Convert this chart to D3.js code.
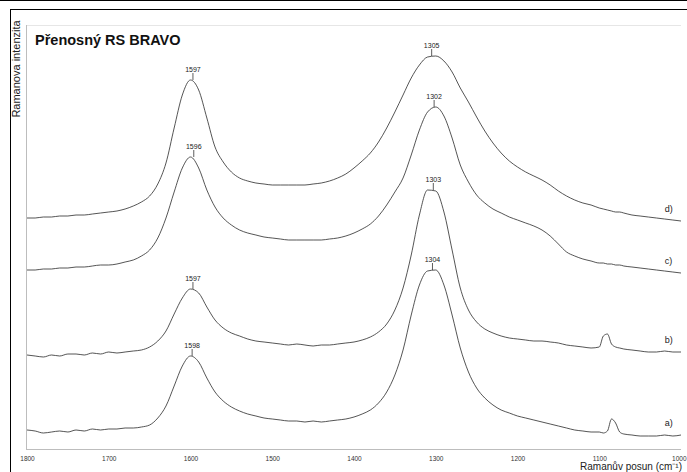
<!DOCTYPE html>
<html><head><meta charset="utf-8">
<script src="https://cdn.jsdelivr.net/npm/d3@7"></script>
<style>body{margin:0;background:#fff}svg{display:block;font-family:"Liberation Sans",Arial,sans-serif}</style>
</head><body>
<svg id="chart" width="687" height="472"></svg>
<script>
// Raman shift grid (cm-1)
const wavenumbers = [
  1800,1790,1780,1770,1760,1750,1740,1730,1720,1710,
  1700,1690,1680,1670,1660,1650,1640,1630,1620,1610,
  1600,1590,1580,1570,1560,1550,1540,1530,1520,1510,
  1500,1490,1480,1470,1460,1450,1440,1430,1420,1410,
  1400,1390,1380,1370,1360,1350,1340,1330,1320,1310,
  1300,1290,1280,1270,1260,1250,1240,1230,1220,1210,
  1200,1190,1180,1170,1160,1150,1140,1130,1120,1110,
  1100,1095,1090,1085,1080,1075,1070,
  1060,1050,1040,1030,1020,1010,1000
];
// Intensities (arbitrary units, stacked offsets included)
const seriesA = [
  19,18,16,17,18,17,19,18,20,19,
  20,20,21,21,22,24,31,43,63,83,
  93,87,71,57,48,42,38,35,33,31,
  30,29,28,28,27,28,27,28,29,30,
  32,35,39,46,57,74,99,134,164,178,
  179,164,134,101,77,61,51,44,39,36,
  33,31,29,27,25,23,21,19,18,17,
  17,16,18,30,26,17,15,
  14,13,13,13,14,13,14
];
const seriesB = [
  94,93,92,94,93,95,95,94,96,95,
  97,96,97,98,99,102,108,118,135,151,
  160,156,142,129,121,116,113,110,108,107,
  106,105,104,105,104,103,104,104,105,106,
  107,109,112,117,125,139,161,194,234,259,
  258,237,199,161,139,127,120,116,113,111,
  110,109,108,108,107,106,104,103,102,101,
  102,113,115,105,102,101,100,
  99,98,97,97,98,97,97
];
const seriesC = [
  179,179,180,180,181,181,182,182,183,184,
  184,185,187,189,193,199,211,231,257,281,
  292,281,259,242,231,224,219,216,214,212,
  211,210,209,209,209,209,209,210,211,213,
  216,220,225,233,244,257,271,294,319,337,
  342,333,311,284,267,254,246,240,236,232,
  229,226,223,219,213,205,197,193,190,188,
  186,186,185,185,184,184,183,
  182,181,180,179,178,177,176
];
const seriesD = [
  231,231,232,232,233,233,234,234,235,236,
  237,238,240,243,247,253,265,286,321,354,
  369,359,331,302,287,277,271,268,266,265,
  264,264,264,264,264,265,266,268,271,275,
  281,288,296,307,321,337,354,371,384,392,
  393,388,377,361,347,332,318,306,296,288,
  282,277,273,269,264,258,253,249,246,244,
  241,240,239,238,237,237,236,
  234,233,232,231,230,229,228
];
const seriesNames = ["a)","b)","c)","d)"];
const tickValues = [1800,1700,1600,1500,1400,1300,1200,1100,1000];
const peakSeries = [3,3,2,2,1,1,0,0];
const peakLabels = ["1597","1305","1596","1302","1597","1303","1598","1304"];
const titleText = "Přenosný RS BRAVO";
const xTitle = "Ramanův posun (cm⁻¹)";
const yTitle = "Ramanova intenzita";

const allSeries = [seriesA, seriesB, seriesC, seriesD];
const svg = d3.select("#chart");
const x = d3.scaleLinear().domain([1800,1000]).range([27,681]);
const y = d3.scaleLinear().domain([0,424]).range([449,25]);

// outer frame
svg.append("line").attr("x1",0).attr("x2",687).attr("y1",0.5).attr("y2",0.5).attr("stroke","#000").attr("stroke-width",1.2);
svg.append("line").attr("x1",10).attr("x2",687).attr("y1",9.5).attr("y2",9.5).attr("stroke","#000").attr("stroke-width",1);
svg.append("line").attr("x1",10.5).attr("x2",10.5).attr("y1",9).attr("y2",472).attr("stroke","#000").attr("stroke-width",1);

// plot box
svg.append("line").attr("x1",26).attr("x2",681).attr("y1",25.5).attr("y2",25.5).attr("stroke","#e6e6e6");
svg.append("line").attr("x1",26.5).attr("x2",26.5).attr("y1",25).attr("y2",450).attr("stroke","#bdbdbd");
svg.append("line").attr("x1",26).attr("x2",681).attr("y1",449.5).attr("y2",449.5).attr("stroke","#bdbdbd");

// axis
const ax = svg.append("g").attr("transform","translate(0,449)")
  .call(d3.axisBottom(x).tickValues(tickValues).tickSize(0).tickPadding(7).tickFormat(d3.format("d")));
ax.select(".domain").remove();
ax.attr("font-family",null).attr("font-size",null);
ax.selectAll("text").attr("font-size","6.5px").attr("fill","#333");
ax.selectAll(".tick").filter(d=>d===1000).select("text").attr("text-anchor","end").attr("dx","5");

// spectra
const line = d3.line().x((d,i)=>x(wavenumbers[i])).y(d=>y(d)).curve(d3.curveMonotoneX);
svg.append("g").selectAll("path").data(allSeries).join("path")
  .attr("d", d=>line(d)).attr("fill","none").attr("stroke","#2a2a2a").attr("stroke-width",0.8);

// series labels
svg.append("g").selectAll("text").data(allSeries).join("text")
  .attr("x", x(1020)).attr("y", d=>y(d[d.length-1]) - 9)
  .attr("font-size","9px").attr("fill","#222").text((d,i)=>seriesNames[i]);

// peak annotations
peakLabels.forEach((lab,k)=>{
  const s = allSeries[peakSeries[k]];
  const w = +lab;
  let best = -Infinity;
  wavenumbers.forEach((wn,i)=>{ if (Math.abs(wn-w)<=10 && s[i]>best) best=s[i]; });
  const px = x(w), py = y(best);
  svg.append("line").attr("x1",px).attr("x2",px).attr("y1",py-7).attr("y2",py)
    .attr("stroke","#333").attr("stroke-width",0.8);
  svg.append("text").attr("x",px).attr("y",py-8).attr("text-anchor","middle")
    .attr("font-size","7px").attr("fill","#222").text(lab);
});

// titles
svg.append("text").attr("x",35).attr("y",45).attr("font-size","14.5px").attr("font-weight","bold").attr("fill","#111").text(titleText);
svg.append("text").attr("x",682).attr("y",470).attr("text-anchor","end").attr("font-size","10px").attr("fill","#222").text(xTitle);
svg.append("text").attr("transform","translate(20,69) rotate(-90)").attr("text-anchor","middle")
  .attr("font-size","11px").attr("fill","#222").text(yTitle);
</script>
</body></html>
